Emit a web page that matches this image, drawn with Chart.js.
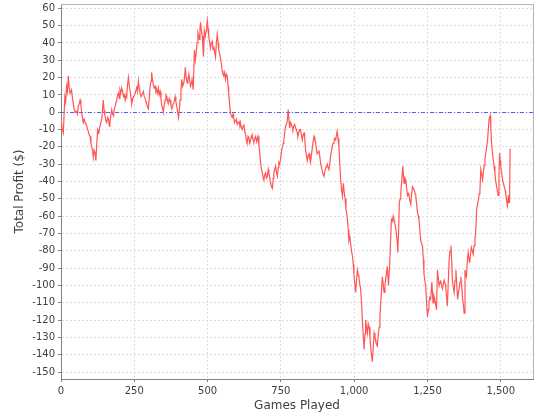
<!DOCTYPE html>
<html>
<head>
<meta charset="utf-8">
<script src="https://cdn.jsdelivr.net/npm/chart.js@4/dist/chart.umd.min.js"></script>
<style>
  html, body { margin: 0; padding: 0; background: #fff; }
  #wrap { width: 540px; height: 420px; }
</style>
</head>
<body>
<div id="wrap"><canvas id="profitChart" width="540" height="420"></canvas></div>
<script>
// games played vs running total profit
const games = [
  0,4,8,13,16,19,22,25,28,31,36,39,42,45,48,53,56,59,62,65,68,70,73,76,79,82,85,88,91,93,96,99,
  102,105,108,110,113,116,119,122,125,129,133,136,139,142,144,147,150,153,156,159,162,165,167,170,
  173,176,179,182,184,187,190,193,196,199,201,204,207,210,213,216,219,222,224,227,230,233,236,239,
  241,244,247,250,253,256,258,261,264,267,270,273,275,278,281,284,287,290,292,295,298,301,304,307,
  309,312,315,318,321,324,326,329,332,335,338,341,344,347,349,352,355,358,361,364,366,369,372,375,
  378,381,384,387,389,392,395,398,401,404,406,409,412,415,419,422,424,427,430,433,436,439,442,445,
  447,451,455,458,461,464,467,470,472,474,476,479,482,484,486,489,492,495,497,499,502,504,507,510,
  513,516,519,521,524,527,530,533,536,538,541,544,547,550,552,555,558,561,564,567,570,572,575,578,
  581,584,587,589,592,595,598,601,604,607,610,612,615,618,621,624,627,630,632,635,638,641,644,647,
  650,652,655,658,661,664,667,669,672,675,678,681,684,687,690,692,695,698,701,704,707,709,712,715,
  718,721,724,726,729,732,735,738,741,743,746,749,752,755,758,760,763,766,769,772,775,778,780,783,
  786,789,791,794,797,800,803,806,808,811,814,817,820,823,826,829,831,834,837,840,843,846,849,851,
  854,857,860,863,866,868,871,874,877,880,883,886,889,891,894,897,900,903,906,908,911,914,917,920,
  923,925,928,931,934,937,940,942,945,948,951,954,957,960,963,966,969,972,975,977,980,982,985,988,
  991,994,997,999,1002,1005,1008,1011,1014,1016,1019,1022,1025,1028,1031,1034,1037,1039,1042,1045,
  1048,1051,1054,1056,1059,1062,1065,1068,1071,1073,1076,1079,1082,1085,1088,1090,1093,1096,1099,
  1102,1105,1107,1110,1113,1117,1121,1124,1127,1130,1133,1136,1138,1141,1144,1147,1149,1152,1154,
  1157,1159,1162,1166,1168,1170,1173,1176,1179,1182,1185,1187,1190,1193,1196,1199,1202,1205,1208,
  1210,1213,1216,1219,1221,1224,1227,1230,1233,1236,1238,1241,1244,1247,1250,1253,1255,1258,1261,
  1265,1269,1272,1275,1278,1281,1284,1287,1290,1293,1295,1298,1301,1304,1307,1310,1312,1315,1318,
  1321,1324,1327,1330,1333,1335,1338,1341,1344,1347,1350,1353,1356,1358,1361,1364,1367,1370,1373,
  1375,1378,1381,1383,1386,1389,1392,1394,1397,1400,1403,1406,1409,1412,1415,1418,1421,1424,1427,
  1429,1432,1435,1438,1441,1443,1446,1449,1452,1455,1458,1460,1464,1466,1468,1471,1474,1477,1480,
  1483,1486,1489,1491,1494,1496,1498,1500,1503,1506,1509,1512,1515,1517,1520,1523,1526,1528,1530,1532
];
const profit = [
  -3,-10,-12,9,6,15,12,21,14,11,13,8,5,2,0,0.5,-1,3.5,5,7,4,0.5,-3,-6,-4,-6,-7,-8,-10,-11,-13,-14,
  -18,-20,-22,-26,-22,-23.5,-28,-18,-10,-12,-8,-6,-4,2,7,1,-2,-5,-6,-3,-4,-8,-6,-2,
  1.5,-1,-2,2,2,5,7,10,11,8,13,11,14,12,9,10,7,10,9,16,20,15,12,8,
  5,7,9,10,11,13,15,12,18,14,11,9,9,11,12,9,8,6,5,3,2,8,15,18,
  23,19,16,14,15,12,13,11,14,10,12,8,3.5,2,0,4,7,10,9,6,5,8,7,4,
  2,4,5,7,9,6,3.5,0,-3,2,7,12,19,15,17,21,26,20,17,19,22,18,15,17,
  19,13,36,30,34,40,46,44,42,48,52,47,44,38,32,47,44,47,50,53,48,44,40,37,
  40,41,36,38,35,32,40,45,40,36,34,31,28,24,22,21,23,19,22,21,15,11,5,-0.5,
  -2,-3,-1,-3,-6,-5,-4,-7,-6,-5,-8,-6,-9,-10,-8,-7,-11,-13,-16,-18,-14,-15,-18,-16,
  -14,-13,-16,-17,-15,-14,-17,-16,-14,-19,-24,-29,-33,-35,-38,-39,-36,-35,-38,-37,-33,-35,-38,-41,
  -43,-44,-38,-35,-33,-31,-35,-37,-32,-29,-30,-27,-23,-20,-18,-16,-12,-8,-7,-5,1.5,-5,-9,-6,
  -7,-9,-10,-8,-7,-9,-10,-12,-14,-12,-10,-10,-13,-16,-13,-12,-14,-21.5,-25,-28,-25,-24,-27,-29,
  -25,-21,-17,-14,-16,-17,-21,-24,-23,-22,-26,-30,-32,-34,-36,-37,-34,-32,-31,-30,-32,-33,-29,-25,
  -22,-20,-18,-17,-15,-16,-13,-11,-15,-20,-30,-39,-45,-48.5,-41,-46,-50,-56,-59,-62,-68,-74,-72,-76,
  -80,-83,-88,-93,-99,-104,-97,-91,-94,-95,-99,-102,-110,-120,-129,-137,-128,-120,-124,-127.5,
  -122,-124,-130,-135,-140,-144,-136,-127.5,-130,-131,-134,-135,-129,-124,-118,-112,-104,-95,-99,
  -104,-100,-97,-93,-89,-100,-88,-75,-62,-63,-60,-62,-64,-66,-70,-75,-81,-66,-52,
  -50,-47,-40,-31,-36,-41,-38,-39,-44,-48,-47,-48,-51,-53,-47,-43,-44,-45,-47,
  -48,-53,-58,-60,-62,-68,-74,-76,-77,-85,-93,-97,-100.5,-110,-118,-114,-110,-107,-108,
  -98,-110,-106,-108,-111,-114,-91,-96,-100,-98,-97,-100,-102,-99,-97,-99,-100,-106,-112,
  -98,-85,-80,-77,-87,-97,-101,-104,-97,-91,-100,-108,-104,-102,-98,-95,-101,-108,-112,
  -116,-91,-94,-95,-86,-81,-85,-87,-82,-78,-80,-82,-77,-74,-68,-56,-53,-50,-47,
  -45,-33,-36,-39,-34,-31,-27,-23.5,-20,-16,-9,-4,-2,-9,-16,-22,-27,-31,-35,
  -40,-43,-46,-48,-36,-23.5,-28,-31,-35,-39,-41,-43,-45,-47,-51,-54,-48,-52,-52,-21
];

const xMin = 0, xMax = 1610, xStep = 250;
const yMin = -154, yMax = 62.5, yStep = 10;
const baseline = 0;

const points = games.map((g, i) => ({ x: g, y: profit[i] }));

// plot frame (top/right edges) and the blue zero marker
const framePlugin = {
  id: 'frame',
  beforeDatasetsDraw(chart) {
    const { ctx, chartArea: a, scales } = chart;
    const y0 = Math.round(scales.y.getPixelForValue(baseline)) + 0.5;
    ctx.save();
    ctx.strokeStyle = '#5a5aff';
    ctx.lineWidth = 1;
    ctx.setLineDash([4, 2, 1, 2]);
    ctx.beginPath();
    ctx.moveTo(a.left, y0);
    ctx.lineTo(a.right, y0);
    ctx.stroke();
    ctx.restore();
  },
  afterDraw(chart) {
    const { ctx, chartArea: a } = chart;
    ctx.save();
    ctx.strokeStyle = '#b4b4b4';
    ctx.lineWidth = 1;
    ctx.beginPath();
    ctx.moveTo(a.left, Math.round(a.top) + 0.5);
    ctx.lineTo(Math.round(a.right) + 0.5, Math.round(a.top) + 0.5);
    ctx.lineTo(Math.round(a.right) + 0.5, a.bottom);
    ctx.stroke();
    ctx.restore();
  }
};

const tickFont = { family: 'DejaVu Sans', size: 10 };
const titleFont = { family: 'DejaVu Sans', size: 12 };

new Chart(document.getElementById('profitChart'), {
  type: 'line',
  data: {
    datasets: [{
      data: points,
      borderColor: '#ff5555',
      borderWidth: 1.2,
      pointRadius: 0,
      tension: 0,
      fill: false
    }]
  },
  options: {
    responsive: false,
    animation: false,
    parsing: false,
    layout: { padding: { top: 4, right: 7, left: 0, bottom: 0 } },
    plugins: { legend: { display: false }, tooltip: { enabled: false } },
    scales: {
      x: {
        type: 'linear',
        min: xMin,
        max: xMax,
        afterFit: s => { s.height = 41; s.paddingLeft = 0; s.paddingRight = 0; },
        border: { color: '#808080', width: 1, dash: [2, 2] },
        grid: { color: '#dedede', tickLength: 3, tickColor: '#808080', tickBorderDash: [] },
        ticks: {
          stepSize: xStep,
          includeBounds: false,
          maxRotation: 0,
          padding: 3,
          color: '#404040',
          font: tickFont,
          callback: v => v.toLocaleString('en-US')
        },
        title: { display: true, text: 'Games Played', color: '#404040', font: titleFont, padding: { top: 0, bottom: 7 } }
      },
      y: {
        min: yMin,
        max: yMax,
        afterFit: s => { s.width = 61; s.paddingTop = 0; s.paddingBottom = 0; },
        border: { color: '#808080', width: 1, dash: [2, 2] },
        grid: { color: '#dedede', tickLength: 3, tickColor: '#808080', tickBorderDash: [] },
        ticks: {
          stepSize: yStep,
          includeBounds: false,
          padding: 3,
          color: '#404040',
          font: tickFont
        },
        title: { display: true, text: 'Total Profit ($)', color: '#404040', font: titleFont, padding: { top: 13, bottom: 0 } }
      }
    }
  },
  plugins: [framePlugin]
});
</script>
</body>
</html>
